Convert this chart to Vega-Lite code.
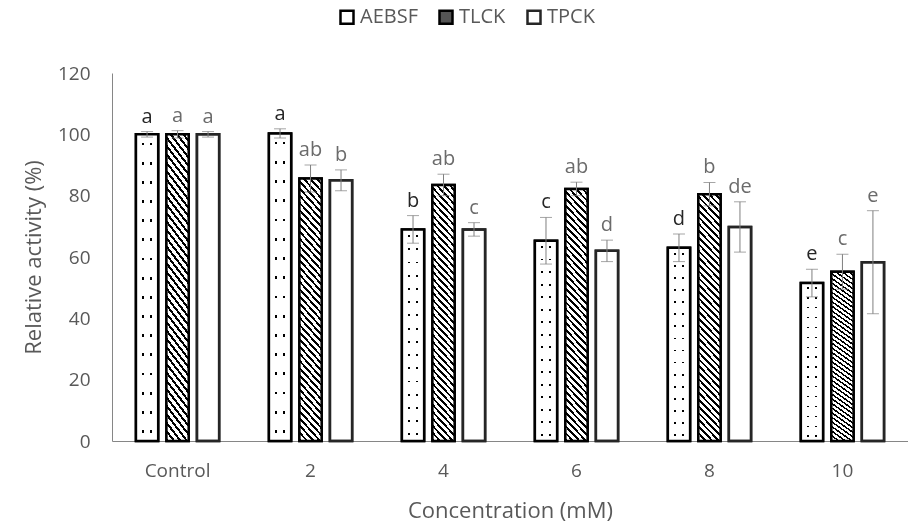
{
  "$schema": "https://vega.github.io/schema/vega-lite/v6.json",
  "width": 796,
  "height": 368,
  "autosize": {"type": "none"},
  "padding": {"left": 112, "top": 73, "right": 0, "bottom": 88},
  "background": "#ffffff",
  "config": {
    "font": "Open Sans",
    "view": {"stroke": null},
    "axis": {"grid": false, "ticks": false, "tickSize": 0, "domainColor": "#868686", "domainWidth": 1, "labelColor": "#595959", "labelFontSize": 19, "titleColor": "#595959", "titleFontSize": 22, "titleFontWeight": "normal"},
    "axisX": {"labelAngle": 0, "labelPadding": 20, "titlePadding": 20},
    "axisY": {"labelPadding": 22, "titlePadding": 12, "tickCount": 6}
  },
  "data": {"values": [
    {"conc": "Control", "inhibitor": "AEBSF", "value": 100, "low": 99.1, "high": 100.9, "letter": "a"},
    {"conc": "Control", "inhibitor": "TLCK", "value": 100, "low": 98.8, "high": 101.2, "letter": "a"},
    {"conc": "Control", "inhibitor": "TPCK", "value": 100, "low": 99.1, "high": 100.9, "letter": "a"},
    {"conc": "2", "inhibitor": "AEBSF", "value": 100.3, "low": 98.8, "high": 101.8, "letter": "a"},
    {"conc": "2", "inhibitor": "TLCK", "value": 85.6, "low": 81.2, "high": 90, "letter": "ab"},
    {"conc": "2", "inhibitor": "TPCK", "value": 85, "low": 81.6, "high": 88.4, "letter": "b"},
    {"conc": "4", "inhibitor": "AEBSF", "value": 69, "low": 64.5, "high": 73.5, "letter": "b"},
    {"conc": "4", "inhibitor": "TLCK", "value": 83.5, "low": 80, "high": 87, "letter": "ab"},
    {"conc": "4", "inhibitor": "TPCK", "value": 69, "low": 66.8, "high": 71.2, "letter": "c"},
    {"conc": "6", "inhibitor": "AEBSF", "value": 65.3, "low": 57.7, "high": 72.9, "letter": "c"},
    {"conc": "6", "inhibitor": "TLCK", "value": 82.2, "low": 80, "high": 84.4, "letter": "ab"},
    {"conc": "6", "inhibitor": "TPCK", "value": 62, "low": 58.5, "high": 65.5, "letter": "d"},
    {"conc": "8", "inhibitor": "AEBSF", "value": 63, "low": 58.5, "high": 67.5, "letter": "d"},
    {"conc": "8", "inhibitor": "TLCK", "value": 80.5, "low": 76.7, "high": 84.3, "letter": "b"},
    {"conc": "8", "inhibitor": "TPCK", "value": 69.8, "low": 61.6, "high": 78, "letter": "de"},
    {"conc": "10", "inhibitor": "AEBSF", "value": 51.5, "low": 47, "high": 56, "letter": "e"},
    {"conc": "10", "inhibitor": "TLCK", "value": 55.2, "low": 49.5, "high": 60.9, "letter": "c"},
    {"conc": "10", "inhibitor": "TPCK", "value": 58.3, "low": 41.5, "high": 75.1, "letter": "e"}
  ]},
  "encoding": {
    "x": {"field": "conc", "type": "nominal", "sort": ["Control", "2", "4", "6", "8", "10"], "title": "Concentration (mM)", "scale": {"paddingInner": 0.374, "paddingOuter": 0.18}},
    "xOffset": {"field": "inhibitor", "type": "nominal", "sort": ["AEBSF", "TLCK", "TPCK"], "scale": {"paddingInner": 0.27, "paddingOuter": 0}}
  },
  "layer": [
    {
      "mark": {"type": "bar"},
      "encoding": {
        "y": {"field": "value", "type": "quantitative", "title": "Relative activity (%)", "scale": {"domain": [0, 120], "nice": false}},
        "fill": {"field": "inhibitor", "type": "nominal", "scale": {"domain": ["AEBSF", "TLCK", "TPCK"], "range": ["#ffffff", "#555555", "#ffffff"]},
          "legend": {"orient": "none", "legendX": 225, "legendY": -66, "direction": "horizontal", "title": null, "symbolType": "square", "symbolSize": 169, "labelFontSize": 20, "labelColor": "#595959", "columnPadding": 16, "labelOffset": 3, "padding": 0,
            "encode": {"symbols": {"update": {"fill": {"signal": "datum.value === 'TLCK' ? {gradient: 'linear', x1: 0, y1: 1, x2: 1, y2: 0, stops: [{offset: 0, color: '#000'}, {offset: 0.24, color: '#000'}, {offset: 0.24, color: '#fff'}, {offset: 0.4, color: '#fff'}, {offset: 0.4, color: '#000'}, {offset: 0.6, color: '#000'}, {offset: 0.6, color: '#fff'}, {offset: 0.76, color: '#fff'}, {offset: 0.76, color: '#000'}, {offset: 1, color: '#000'}]} : '#ffffff'"}}}}}},
        "stroke": {"field": "inhibitor", "type": "nominal", "scale": {"domain": ["AEBSF", "TLCK", "TPCK"], "range": ["#000000", "#000000", "#262626"]},
          "legend": {"orient": "none", "legendX": 225, "legendY": -66, "direction": "horizontal", "title": null, "symbolType": "square", "symbolSize": 169, "labelFontSize": 20, "labelColor": "#595959", "columnPadding": 16, "labelOffset": 3, "padding": 0}},
        "strokeWidth": {"field": "inhibitor", "type": "nominal", "scale": {"domain": ["AEBSF", "TLCK", "TPCK"], "range": [2.5, 2.5, 1.3]},
          "legend": {"orient": "none", "legendX": 225, "legendY": -66, "direction": "horizontal", "title": null, "symbolType": "square", "symbolSize": 169, "labelFontSize": 20, "labelColor": "#595959", "columnPadding": 16, "labelOffset": 3, "padding": 0}}
      }
    },
    {
      "transform": [{"filter": "datum.inhibitor === 'TLCK'"}],
      "mark": {"type": "bar", "strokeWidth": 0, "fill": {"gradient": "linear", "x1": 1, "y1": 0, "x2": 0.898, "y2": 1.0845, "stops": [
        {"offset": 0, "color": "#fff"}, {"offset": 0.015, "color": "#fff"}, {"offset": 0.015, "color": "#000"}, {"offset": 0.025, "color": "#000"},
        {"offset": 0.025, "color": "#fff"}, {"offset": 0.04, "color": "#fff"}, {"offset": 0.04, "color": "#000"}, {"offset": 0.05, "color": "#000"},
        {"offset": 0.05, "color": "#fff"}, {"offset": 0.065, "color": "#fff"}, {"offset": 0.065, "color": "#000"}, {"offset": 0.075, "color": "#000"},
        {"offset": 0.075, "color": "#fff"}, {"offset": 0.09, "color": "#fff"}, {"offset": 0.09, "color": "#000"}, {"offset": 0.1, "color": "#000"},
        {"offset": 0.1, "color": "#fff"}, {"offset": 0.115, "color": "#fff"}, {"offset": 0.115, "color": "#000"}, {"offset": 0.125, "color": "#000"},
        {"offset": 0.125, "color": "#fff"}, {"offset": 0.14, "color": "#fff"}, {"offset": 0.14, "color": "#000"}, {"offset": 0.15, "color": "#000"},
        {"offset": 0.15, "color": "#fff"}, {"offset": 0.165, "color": "#fff"}, {"offset": 0.165, "color": "#000"}, {"offset": 0.175, "color": "#000"},
        {"offset": 0.175, "color": "#fff"}, {"offset": 0.19, "color": "#fff"}, {"offset": 0.19, "color": "#000"}, {"offset": 0.2, "color": "#000"},
        {"offset": 0.2, "color": "#fff"}, {"offset": 0.215, "color": "#fff"}, {"offset": 0.215, "color": "#000"}, {"offset": 0.225, "color": "#000"},
        {"offset": 0.225, "color": "#fff"}, {"offset": 0.24, "color": "#fff"}, {"offset": 0.24, "color": "#000"}, {"offset": 0.25, "color": "#000"},
        {"offset": 0.25, "color": "#fff"}, {"offset": 0.265, "color": "#fff"}, {"offset": 0.265, "color": "#000"}, {"offset": 0.275, "color": "#000"},
        {"offset": 0.275, "color": "#fff"}, {"offset": 0.29, "color": "#fff"}, {"offset": 0.29, "color": "#000"}, {"offset": 0.3, "color": "#000"},
        {"offset": 0.3, "color": "#fff"}, {"offset": 0.315, "color": "#fff"}, {"offset": 0.315, "color": "#000"}, {"offset": 0.325, "color": "#000"},
        {"offset": 0.325, "color": "#fff"}, {"offset": 0.34, "color": "#fff"}, {"offset": 0.34, "color": "#000"}, {"offset": 0.35, "color": "#000"},
        {"offset": 0.35, "color": "#fff"}, {"offset": 0.365, "color": "#fff"}, {"offset": 0.365, "color": "#000"}, {"offset": 0.375, "color": "#000"},
        {"offset": 0.375, "color": "#fff"}, {"offset": 0.39, "color": "#fff"}, {"offset": 0.39, "color": "#000"}, {"offset": 0.4, "color": "#000"},
        {"offset": 0.4, "color": "#fff"}, {"offset": 0.415, "color": "#fff"}, {"offset": 0.415, "color": "#000"}, {"offset": 0.425, "color": "#000"},
        {"offset": 0.425, "color": "#fff"}, {"offset": 0.44, "color": "#fff"}, {"offset": 0.44, "color": "#000"}, {"offset": 0.45, "color": "#000"},
        {"offset": 0.45, "color": "#fff"}, {"offset": 0.465, "color": "#fff"}, {"offset": 0.465, "color": "#000"}, {"offset": 0.475, "color": "#000"},
        {"offset": 0.475, "color": "#fff"}, {"offset": 0.49, "color": "#fff"}, {"offset": 0.49, "color": "#000"}, {"offset": 0.5, "color": "#000"},
        {"offset": 0.5, "color": "#fff"}, {"offset": 0.515, "color": "#fff"}, {"offset": 0.515, "color": "#000"}, {"offset": 0.525, "color": "#000"},
        {"offset": 0.525, "color": "#fff"}, {"offset": 0.54, "color": "#fff"}, {"offset": 0.54, "color": "#000"}, {"offset": 0.55, "color": "#000"},
        {"offset": 0.55, "color": "#fff"}, {"offset": 0.565, "color": "#fff"}, {"offset": 0.565, "color": "#000"}, {"offset": 0.575, "color": "#000"},
        {"offset": 0.575, "color": "#fff"}, {"offset": 0.59, "color": "#fff"}, {"offset": 0.59, "color": "#000"}, {"offset": 0.6, "color": "#000"},
        {"offset": 0.6, "color": "#fff"}, {"offset": 0.615, "color": "#fff"}, {"offset": 0.615, "color": "#000"}, {"offset": 0.625, "color": "#000"},
        {"offset": 0.625, "color": "#fff"}, {"offset": 0.64, "color": "#fff"}, {"offset": 0.64, "color": "#000"}, {"offset": 0.65, "color": "#000"},
        {"offset": 0.65, "color": "#fff"}, {"offset": 0.665, "color": "#fff"}, {"offset": 0.665, "color": "#000"}, {"offset": 0.675, "color": "#000"},
        {"offset": 0.675, "color": "#fff"}, {"offset": 0.69, "color": "#fff"}, {"offset": 0.69, "color": "#000"}, {"offset": 0.7, "color": "#000"},
        {"offset": 0.7, "color": "#fff"}, {"offset": 0.715, "color": "#fff"}, {"offset": 0.715, "color": "#000"}, {"offset": 0.725, "color": "#000"},
        {"offset": 0.725, "color": "#fff"}, {"offset": 0.74, "color": "#fff"}, {"offset": 0.74, "color": "#000"}, {"offset": 0.75, "color": "#000"},
        {"offset": 0.75, "color": "#fff"}, {"offset": 0.765, "color": "#fff"}, {"offset": 0.765, "color": "#000"}, {"offset": 0.775, "color": "#000"},
        {"offset": 0.775, "color": "#fff"}, {"offset": 0.79, "color": "#fff"}, {"offset": 0.79, "color": "#000"}, {"offset": 0.8, "color": "#000"},
        {"offset": 0.8, "color": "#fff"}, {"offset": 0.815, "color": "#fff"}, {"offset": 0.815, "color": "#000"}, {"offset": 0.825, "color": "#000"},
        {"offset": 0.825, "color": "#fff"}, {"offset": 0.84, "color": "#fff"}, {"offset": 0.84, "color": "#000"}, {"offset": 0.85, "color": "#000"},
        {"offset": 0.85, "color": "#fff"}, {"offset": 0.865, "color": "#fff"}, {"offset": 0.865, "color": "#000"}, {"offset": 0.875, "color": "#000"},
        {"offset": 0.875, "color": "#fff"}, {"offset": 0.89, "color": "#fff"}, {"offset": 0.89, "color": "#000"}, {"offset": 0.9, "color": "#000"},
        {"offset": 0.9, "color": "#fff"}, {"offset": 0.915, "color": "#fff"}, {"offset": 0.915, "color": "#000"}, {"offset": 0.925, "color": "#000"},
        {"offset": 0.925, "color": "#fff"}, {"offset": 0.94, "color": "#fff"}, {"offset": 0.94, "color": "#000"}, {"offset": 0.95, "color": "#000"},
        {"offset": 0.95, "color": "#fff"}, {"offset": 0.965, "color": "#fff"}, {"offset": 0.965, "color": "#000"}, {"offset": 0.975, "color": "#000"},
        {"offset": 0.975, "color": "#fff"}, {"offset": 0.99, "color": "#fff"}, {"offset": 0.99, "color": "#000"}, {"offset": 1, "color": "#000"}
      ]}},
      "encoding": {
        "y": {"field": "value", "type": "quantitative", "title": "Relative activity (%)", "scale": {"domain": [0, 120], "nice": false}}
      }
    },
    {
      "transform": [{"filter": "datum.inhibitor === 'AEBSF'"}],
      "mark": {"type": "bar", "strokeWidth": 0, "fill": {"gradient": "linear", "x1": 0, "y1": 0, "x2": 0, "y2": 1, "stops": [
        {"offset": 0, "color": "#fff"},
        {"offset": 0.027, "color": "#fff"}, {"offset": 0.027, "color": "#000"}, {"offset": 0.036, "color": "#000"}, {"offset": 0.036, "color": "#fff"},
        {"offset": 0.0895, "color": "#fff"}, {"offset": 0.0895, "color": "#000"}, {"offset": 0.0985, "color": "#000"}, {"offset": 0.0985, "color": "#fff"},
        {"offset": 0.152, "color": "#fff"}, {"offset": 0.152, "color": "#000"}, {"offset": 0.161, "color": "#000"}, {"offset": 0.161, "color": "#fff"},
        {"offset": 0.2145, "color": "#fff"}, {"offset": 0.2145, "color": "#000"}, {"offset": 0.2235, "color": "#000"}, {"offset": 0.2235, "color": "#fff"},
        {"offset": 0.277, "color": "#fff"}, {"offset": 0.277, "color": "#000"}, {"offset": 0.286, "color": "#000"}, {"offset": 0.286, "color": "#fff"},
        {"offset": 0.3395, "color": "#fff"}, {"offset": 0.3395, "color": "#000"}, {"offset": 0.3485, "color": "#000"}, {"offset": 0.3485, "color": "#fff"},
        {"offset": 0.402, "color": "#fff"}, {"offset": 0.402, "color": "#000"}, {"offset": 0.411, "color": "#000"}, {"offset": 0.411, "color": "#fff"},
        {"offset": 0.4645, "color": "#fff"}, {"offset": 0.4645, "color": "#000"}, {"offset": 0.4735, "color": "#000"}, {"offset": 0.4735, "color": "#fff"},
        {"offset": 0.527, "color": "#fff"}, {"offset": 0.527, "color": "#000"}, {"offset": 0.536, "color": "#000"}, {"offset": 0.536, "color": "#fff"},
        {"offset": 0.5895, "color": "#fff"}, {"offset": 0.5895, "color": "#000"}, {"offset": 0.5985, "color": "#000"}, {"offset": 0.5985, "color": "#fff"},
        {"offset": 0.652, "color": "#fff"}, {"offset": 0.652, "color": "#000"}, {"offset": 0.661, "color": "#000"}, {"offset": 0.661, "color": "#fff"},
        {"offset": 0.7145, "color": "#fff"}, {"offset": 0.7145, "color": "#000"}, {"offset": 0.7235, "color": "#000"}, {"offset": 0.7235, "color": "#fff"},
        {"offset": 0.777, "color": "#fff"}, {"offset": 0.777, "color": "#000"}, {"offset": 0.786, "color": "#000"}, {"offset": 0.786, "color": "#fff"},
        {"offset": 0.8395, "color": "#fff"}, {"offset": 0.8395, "color": "#000"}, {"offset": 0.8485, "color": "#000"}, {"offset": 0.8485, "color": "#fff"},
        {"offset": 0.902, "color": "#fff"}, {"offset": 0.902, "color": "#000"}, {"offset": 0.911, "color": "#000"}, {"offset": 0.911, "color": "#fff"},
        {"offset": 0.9645, "color": "#fff"}, {"offset": 0.9645, "color": "#000"}, {"offset": 0.9735, "color": "#000"}, {"offset": 0.9735, "color": "#fff"},
        {"offset": 1, "color": "#fff"}
      ]}},
      "encoding": {
        "y": {"field": "value", "type": "quantitative", "title": "Relative activity (%)", "scale": {"domain": [0, 120], "nice": false}}
      }
    },
    {
      "transform": [{"filter": "datum.inhibitor === 'AEBSF'"}],
      "mark": {"type": "bar", "strokeWidth": 0, "blend": "lighten", "fill": {"gradient": "linear", "x1": 0, "y1": 0, "x2": 1, "y2": 0, "stops": [
        {"offset": 0, "color": "#fff"}, {"offset": 0.28, "color": "#fff"}, {"offset": 0.28, "color": "#000"}, {"offset": 0.37, "color": "#000"}, {"offset": 0.37, "color": "#fff"},
        {"offset": 0.62, "color": "#fff"}, {"offset": 0.62, "color": "#000"}, {"offset": 0.71, "color": "#000"}, {"offset": 0.71, "color": "#fff"}, {"offset": 1, "color": "#fff"}
      ]}},
      "encoding": {
        "y": {"field": "value", "type": "quantitative", "title": "Relative activity (%)", "scale": {"domain": [0, 120], "nice": false}}
      }
    },
    {
      "mark": {"type": "bar", "fillOpacity": 0},
      "encoding": {
        "y": {"field": "value", "type": "quantitative", "title": "Relative activity (%)", "scale": {"domain": [0, 120], "nice": false}},
        "stroke": {"field": "inhibitor", "type": "nominal", "scale": {"domain": ["AEBSF", "TLCK", "TPCK"], "range": ["#000000", "#000000", "#262626"]},
          "legend": {"orient": "none", "legendX": 225, "legendY": -66, "direction": "horizontal", "title": null, "symbolType": "square", "symbolSize": 169, "labelFontSize": 20, "labelColor": "#595959", "columnPadding": 16, "labelOffset": 3, "padding": 0}},
        "strokeWidth": {"field": "inhibitor", "type": "nominal", "scale": {"domain": ["AEBSF", "TLCK", "TPCK"], "range": [2.5, 2.5, 1.3]},
          "legend": {"orient": "none", "legendX": 225, "legendY": -66, "direction": "horizontal", "title": null, "symbolType": "square", "symbolSize": 169, "labelFontSize": 20, "labelColor": "#595959", "columnPadding": 16, "labelOffset": 3, "padding": 0}}
      }
    },
    {
      "mark": {"type": "rule", "color": "#7f7f7f", "strokeWidth": 1},
      "encoding": {
        "y": {"field": "low", "type": "quantitative", "title": "Relative activity (%)", "scale": {"domain": [0, 120], "nice": false}},
        "y2": {"field": "high"}
      }
    },
    {
      "mark": {"type": "tick", "color": "#7f7f7f", "size": 12, "thickness": 1},
      "encoding": {
        "y": {"field": "high", "type": "quantitative", "title": "Relative activity (%)", "scale": {"domain": [0, 120], "nice": false}}
      }
    },
    {
      "mark": {"type": "tick", "color": "#7f7f7f", "size": 12, "thickness": 1},
      "encoding": {
        "y": {"field": "low", "type": "quantitative", "title": "Relative activity (%)", "scale": {"domain": [0, 120], "nice": false}}
      }
    },
    {
      "mark": {"type": "text", "fontSize": 20, "baseline": "alphabetic", "dy": -9},
      "encoding": {
        "y": {"field": "high", "type": "quantitative", "title": "Relative activity (%)", "scale": {"domain": [0, 120], "nice": false}},
        "text": {"field": "letter"},
        "color": {"field": "inhibitor", "type": "nominal", "scale": {"domain": ["AEBSF", "TLCK", "TPCK"], "range": ["#262626", "#6b6b6b", "#6b6b6b"]}, "legend": null}
      }
    }
  ]
}
